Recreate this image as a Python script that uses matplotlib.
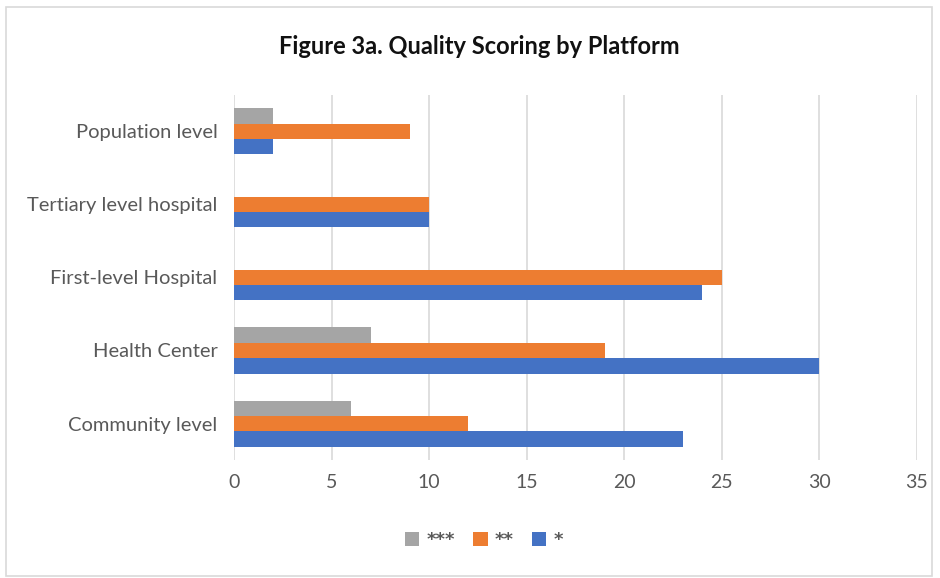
import matplotlib

matplotlib.use("Agg")
import matplotlib.pyplot as plt
import numpy as np
from matplotlib.patches import Rectangle

categories = ["Community level", "Health Center", "First-level Hospital",
              "Tertiary level hospital", "Population level"]
one_star = [23, 30, 24, 10, 2]
two_star = [12, 19, 25, 10, 9]
three_star = [6, 7, 0, 0, 2]

plt.rcParams["font.family"] = ["Lato", "DejaVu Sans"]

fig = plt.figure(figsize=(9.4, 5.78), dpi=100)
ax = fig.add_axes([0.249, 0.204, 0.726, 0.632])

y = np.arange(len(categories))
h = 0.21
ax.barh(y - h, one_star, h, color="#4472C4", label="*", zorder=3)
ax.barh(y, two_star, h, color="#ED7D31", label="**", zorder=3)
ax.barh(y + h, three_star, h, color="#A5A5A5", label="***", zorder=3)

ax.set_xlim(0, 35)
ax.set_ylim(-0.5, len(categories) - 0.5)
ax.set_xticks(range(0, 36, 5))
ax.set_yticks(y)
ax.set_yticklabels(categories)
ax.xaxis.grid(True, color="#D9D9D9", linewidth=1.2, zorder=0)
for s in ax.spines.values():
    s.set_visible(False)
ax.tick_params(length=0, labelsize=14, colors="#595959", pad=10)
ax.tick_params(axis="y", labelsize=14.5, pad=12)

fig.suptitle("Figure 3a. Quality Scoring by Platform", x=0.51, y=0.94,
             fontsize=17, fontweight="bold", color="#111111")

handles, labels = ax.get_legend_handles_labels()
fig.legend(handles[::-1], labels[::-1], loc="center", bbox_to_anchor=(0.515, 0.065),
           ncol=3, frameon=False, labelcolor="#595959",
           prop={"family": "DejaVu Sans", "size": 13, "weight": "bold"},
           handlelength=0.8, handleheight=0.8, columnspacing=1.0, handletextpad=0.4)

fig.patches.append(Rectangle((0.006, 0.004), 0.986, 0.984, transform=fig.transFigure,
                             fill=False, edgecolor="#D9D9D9", linewidth=1.2))

fig.savefig("out.png", dpi=100)
